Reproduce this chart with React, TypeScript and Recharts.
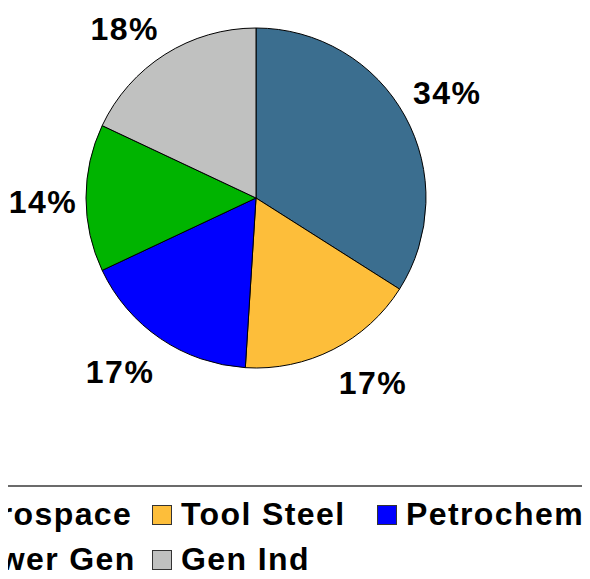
import { Cell, Legend, Pie, PieChart } from "recharts";

const segments = ["Aerospace", "Tool Steel", "Petrochem", "Power Gen", "Gen Ind"];
const shares = [34, 17, 17, 14, 18];
const colors = ["#3B6E8F", "#FDBE3A", "#0000FF", "#00B400", "#C0C1C0"];

const data = segments.map((name, i) => ({ name, value: shares[i] }));

const font = "'Liberation Sans', Arial, sans-serif";
const RAD = Math.PI / 180;

// outside-end style label: push along the mid angle, then out by the box half size
function renderLabel(props: any) {
  const { cx, cy, midAngle, value } = props;
  const ux = Math.cos(-midAngle * RAD);
  const uy = Math.sin(-midAngle * RAD);
  const k = 176;
  const x = cx + k * ux + 37 * Math.sign(Math.round(ux * 100));
  const y = cy + 4 + k * uy + 24 * Math.sign(Math.round(uy * 100));
  return (
    <text
      x={x}
      y={y}
      textAnchor="middle"
      dominantBaseline="central"
      fontFamily={font}
      fontWeight="bold"
      fontSize={32}
      letterSpacing={1.5}
      fill="#000"
    >
      {`${value}%`}
    </text>
  );
}

function renderLegend() {
  return (
    <div style={{ borderTop: "2px solid #6b6b6b", width: 590, paddingTop: 5 }}>
      <div
        style={{
          display: "grid",
          gridTemplateColumns: "225px 225px 225px",
          marginLeft: -73,
          fontFamily: font,
          fontWeight: "bold",
          fontSize: 32,
          letterSpacing: 1.4,
          lineHeight: "45px",
          whiteSpace: "nowrap",
        }}
      >
        {segments.map((name, i) => (
          <div key={name} style={{ display: "flex", alignItems: "center" }}>
            <span
              style={{
                display: "inline-block",
                width: 18,
                height: 18,
                background: colors[i],
                border: "1px solid #333",
                marginRight: 9,
              }}
            />
            {name}
          </div>
        ))}
      </div>
    </div>
  );
}

export default function App() {
  return (
    <div style={{ margin: -8, width: 590, height: 579, overflow: "hidden" }}>
      <PieChart width={590} height={579} margin={{ top: 0, right: 0, bottom: 0, left: 0 }}>
        <Pie
          data={data}
          dataKey="value"
          nameKey="name"
          cx={256}
          cy={198}
          outerRadius={170}
          startAngle={90}
          endAngle={-270}
          stroke="#000"
          strokeWidth={1}
          label={renderLabel}
          labelLine={false}
          isAnimationActive={false}
        >
          {data.map((d, i) => (
            <Cell key={d.name} fill={colors[i]} />
          ))}
        </Pie>
        <Legend
          content={renderLegend}
          wrapperStyle={{ left: 0, top: 485, width: 590, bottom: "auto" }}
        />
      </PieChart>
    </div>
  );
}
